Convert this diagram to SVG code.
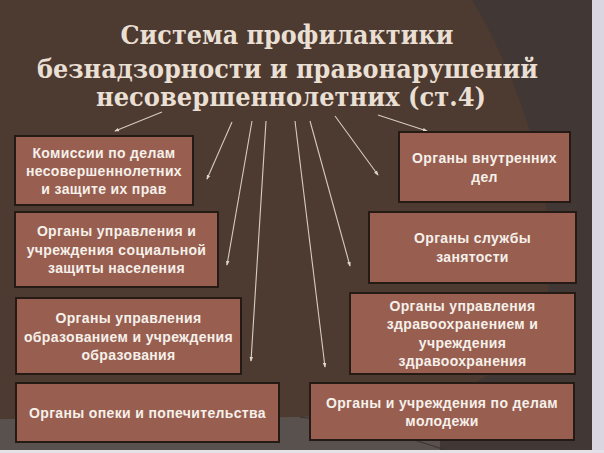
<svg xmlns="http://www.w3.org/2000/svg" width="604" height="453" viewBox="0 0 604 453">
  <defs>
    <marker id="ah" viewBox="0 0 6 6" refX="5" refY="3" markerWidth="5" markerHeight="5" orient="auto" markerUnits="userSpaceOnUse">
      <path d="M0,0.8 L6,3 L0,5.2 Z" fill="#ddd3c8"/>
    </marker>
  </defs>
  <style>
    .box { fill: #985f50; stroke: #261a15; stroke-width: 2; }
    .lbl { font-family: "Liberation Sans", Arial, sans-serif; font-weight: bold; font-size: 14px; fill: #f6f0ea; text-anchor: middle; letter-spacing: 0.35px; }
    .ttl { font-family: "DejaVu Serif", "Liberation Serif", serif; font-weight: bold; font-size: 25.5px; fill: #e9dfd3; text-anchor: middle; }
    .con { stroke: #d6ccc0; stroke-width: 1.1; fill: none; marker-end: url(#ah); }
  </style>

  <!-- background -->
  <rect x="0" y="0" width="604" height="453" fill="#58514d"/>
  <rect x="440" y="0" width="164" height="453" fill="#413835"/>
  <path d="M0,0 H472 C520,80 552,180 550,270 C547,360 470,412 300,417 L0,419 Z" fill="#4d3a30"/>
  <path d="M300,417 C360,425 420,440 450,452" stroke="#3d3431" stroke-width="1.2" fill="none"/>
  <rect x="592" y="0" width="12" height="453" fill="#d9d6e2"/>
  <rect x="0" y="450" width="604" height="3" fill="#e4e1e8"/>

  <!-- title -->
  <g id="title">
    <text class="ttl" x="287" y="44" textLength="333" lengthAdjust="spacingAndGlyphs">Система профилактики</text>
    <text class="ttl" x="287.5" y="78" textLength="501" lengthAdjust="spacingAndGlyphs">безнадзорности и правонарушений</text>
    <text class="ttl" x="291" y="106" textLength="390" lengthAdjust="spacingAndGlyphs">несовершеннолетних (ст.4)</text>
  </g>

  <!-- connectors -->
  <g id="connectors">
    <line class="con" x1="162" y1="112" x2="115" y2="131"/>
    <line class="con" x1="232" y1="122" x2="207" y2="179"/>
    <line class="con" x1="252" y1="121" x2="227" y2="265"/>
    <line class="con" x1="266" y1="121" x2="251" y2="361"/>
    <line class="con" x1="295" y1="121" x2="325" y2="367"/>
    <line class="con" x1="310" y1="121" x2="350" y2="266"/>
    <line class="con" x1="335" y1="116" x2="378" y2="175"/>
    <line class="con" x1="378" y1="115" x2="427" y2="131"/>
  </g>

  <!-- left nodes -->
  <g id="node-kdn">
    <rect class="box" x="15" y="136" width="178" height="69"/>
    <text class="lbl" x="104" y="158">Комиссии по делам</text>
    <text class="lbl" x="104" y="176">несовершеннолетних</text>
    <text class="lbl" x="104" y="194">и защите их прав</text>
  </g>
  <g id="node-social">
    <rect class="box" x="15" y="212" width="203" height="75"/>
    <text class="lbl" x="116.5" y="236">Органы управления и</text>
    <text class="lbl" x="116.5" y="254.5">учреждения социальной</text>
    <text class="lbl" x="116.5" y="273">защиты населения</text>
  </g>
  <g id="node-education">
    <rect class="box" x="16" y="298" width="225" height="76"/>
    <text class="lbl" x="128.5" y="323">Органы управления</text>
    <text class="lbl" x="128.5" y="341.5">образованием и учреждения</text>
    <text class="lbl" x="128.5" y="360">образования</text>
  </g>
  <g id="node-guardianship">
    <rect class="box" x="16" y="383" width="263" height="59"/>
    <text class="lbl" x="147.5" y="417.5">Органы опеки и попечительства</text>
  </g>

  <!-- right nodes -->
  <g id="node-police">
    <rect class="box" x="399" y="132" width="171" height="70"/>
    <text class="lbl" x="484.5" y="163">Органы внутренних</text>
    <text class="lbl" x="484.5" y="181.5">дел</text>
  </g>
  <g id="node-employment">
    <rect class="box" x="369" y="212" width="207" height="71"/>
    <text class="lbl" x="472.5" y="243">Органы службы</text>
    <text class="lbl" x="472.5" y="262">занятости</text>
  </g>
  <g id="node-health">
    <rect class="box" x="350" y="293" width="225" height="81"/>
    <text class="lbl" x="462.5" y="310.5">Органы управления</text>
    <text class="lbl" x="462.5" y="329">здравоохранением и</text>
    <text class="lbl" x="462.5" y="347.5">учреждения</text>
    <text class="lbl" x="462.5" y="366">здравоохранения</text>
  </g>
  <g id="node-youth">
    <rect class="box" x="310" y="383" width="264" height="57"/>
    <text class="lbl" x="442" y="407.5">Органы и учреждения по делам</text>
    <text class="lbl" x="442" y="426">молодежи</text>
  </g>
</svg>
